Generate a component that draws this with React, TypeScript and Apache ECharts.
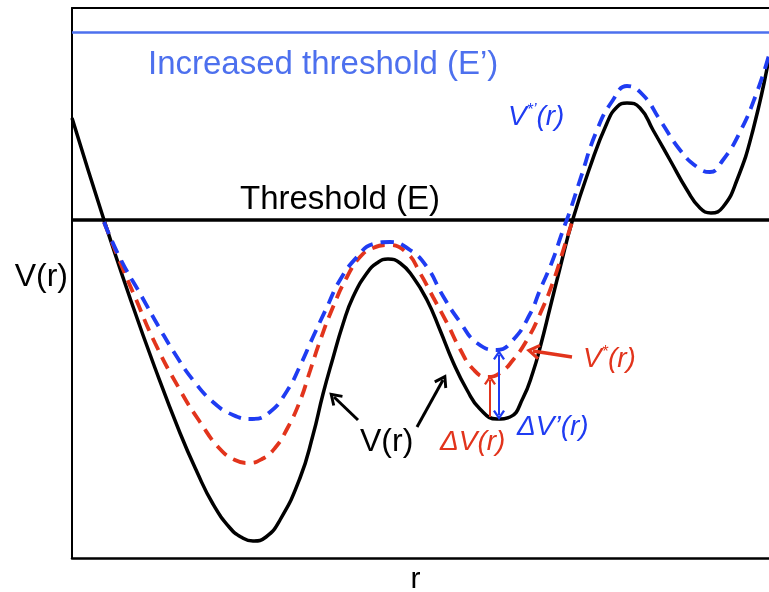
import React, { useEffect, useRef } from "react";
import * as echarts from "echarts";

// r (arbitrary units) and potential V (arbitrary units)
const rBlack = [0, 32, 58, 83, 108, 125, 141, 158, 169, 181, 194, 208, 228, 241, 251, 261, 271, 281, 295, 305, 316, 328, 341, 355, 368, 381, 395, 408, 425, 438, 451, 461, 469, 478, 488, 500, 518, 535, 545, 555, 568, 581, 598, 615, 628, 639, 651, 665, 681, 697];
const vBlack = [440, 338, 260, 190, 125, 86, 54, 30, 21, 17, 21, 38, 80, 123, 164, 200, 234, 261, 285, 295, 299, 295, 281, 258, 228, 196, 168, 149, 139, 141, 160, 186, 214, 250, 290, 336, 391, 435, 451, 455, 450, 428, 398, 368, 350, 345, 351, 378, 428, 500];

const rRed = [32, 48, 63, 83, 108, 128, 148, 163, 176, 190, 203, 215, 228, 238, 248, 261, 275, 288, 301, 316, 335, 348, 361, 375, 388, 401, 415, 428, 441, 455, 468, 481, 491, 500];
const vRed = [336, 296, 261, 215, 168, 136, 109, 98, 95, 99, 110, 129, 157, 187, 217, 251, 281, 301, 310, 313, 305, 285, 261, 235, 209, 189, 181, 185, 198, 218, 244, 276, 307, 336];

const rBlue = [32, 48, 70, 88, 105, 121, 141, 161, 180, 198, 215, 228, 241, 255, 268, 285, 301, 318, 338, 355, 371, 388, 405, 425, 441, 458, 468, 480, 490, 499, 508, 525, 541, 555, 571, 588, 608, 625, 638, 651, 668, 685, 697];
const vBlue = [336, 300, 261, 229, 201, 178, 156, 143, 139, 146, 167, 192, 221, 251, 278, 301, 314, 316, 308, 291, 262, 236, 215, 208, 218, 244, 268, 296, 325, 350, 378, 428, 458, 472, 463, 438, 408, 391, 386, 398, 426, 466, 503];

const thresholdE = 338;
const thresholdEPrime = 526;

const BLACK = "#000000";
const RED = "#e2341c";
const BLUE = "#1f3cf2";
const LIGHT_BLUE = "#4d70ee";
const FONT = "Liberation Sans";
const ARROW = "path://M50,0 L100,82 L84,94 L50,38 L16,94 L0,82 Z";

const pairs = (r: number[], v: number[]) => r.map((x, i) => [x, v[i]]);

export default function App() {
  const ref = useRef<HTMLDivElement>(null);
  useEffect(() => {
    if (!ref.current) return;
    const chart = echarts.init(ref.current, null, { renderer: "svg" });
    const hiddenAxis = {
      axisTick: { show: false },
      axisLabel: { show: false },
      splitLine: { show: false },
    };
    chart.setOption({
      animation: false,
      grid: { left: 72, right: 0, top: 8, bottom: 34, outerBoundsMode: "none", containLabel: false },
      xAxis: [
        {
          type: "value",
          min: 0,
          max: 697,
          position: "bottom",
          ...hiddenAxis,
          axisLine: { show: true, onZero: false, lineStyle: { color: BLACK, width: 2.5 } },
          name: "r",
          nameLocation: "middle",
          nameGap: 4,
          nameTextStyle: { fontFamily: FONT, fontSize: 30, lineHeight: 30, color: BLACK, padding: [0, 10, 0, 0] },
        },
        {
          type: "value",
          min: 0,
          max: 697,
          position: "top",
          ...hiddenAxis,
          axisLine: { show: true, onZero: false, lineStyle: { color: BLACK, width: 2 } },
        },
      ],
      yAxis: {
        type: "value",
        min: 0,
        max: 550,
        ...hiddenAxis,
        axisLine: { show: true, onZero: false, lineStyle: { color: BLACK, width: 2 } },
        name: "V(r)",
        nameLocation: "middle",
        nameRotate: 0,
        nameGap: 4,
        nameTextStyle: { fontFamily: FONT, fontSize: 32, lineHeight: 16, verticalAlign: "bottom", color: BLACK },
      },
      series: [
        {
          type: "line",
          name: "V(r)",
          data: pairs(rBlack, vBlack),
          smooth: 0.5,
          showSymbol: false,
          lineStyle: { color: BLACK, width: 3.5 },
          z: 3,
          markLine: {
            silent: true,
            symbol: "none",
            label: { show: false },
            emphasis: { disabled: true },
            data: [
              { yAxis: thresholdE, lineStyle: { color: BLACK, width: 3.5, type: "solid" } },
              { yAxis: thresholdEPrime, lineStyle: { color: LIGHT_BLUE, width: 2.5, type: "solid" } },
              [
                { coord: [286, 138], symbol: "none", lineStyle: { color: BLACK, width: 3, type: "solid" } },
                { coord: [262, 161], symbol: ARROW, symbolSize: [15, 13] },
              ],
              [
                { coord: [345, 131], symbol: "none", lineStyle: { color: BLACK, width: 3, type: "solid" } },
                { coord: [371, 178], symbol: ARROW, symbolSize: [15, 13] },
              ],
            ],
          },
        },
        {
          type: "line",
          name: "V*(r)",
          data: pairs(rRed, vRed),
          smooth: 0.5,
          showSymbol: false,
          lineStyle: { color: RED, width: 3.8, type: [13, 8] },
          z: 4,
          markLine: {
            silent: true,
            symbol: "none",
            label: { show: false },
            emphasis: { disabled: true },
            data: [
              [
                { coord: [418, 141], symbol: "none", lineStyle: { color: RED, width: 2, type: "solid" } },
                { coord: [418, 178], symbol: ARROW, symbolSize: [12, 10] },
              ],
              [
                { coord: [500, 201], symbol: "none", lineStyle: { color: RED, width: 3.5, type: "solid" } },
                { coord: [461, 207], symbol: ARROW, symbolSize: [16, 14] },
              ],
            ],
          },
        },
        {
          type: "line",
          name: "V*'(r)",
          data: pairs(rBlue, vBlue),
          smooth: 0.5,
          showSymbol: false,
          lineStyle: { color: BLUE, width: 3.8, type: [13, 8] },
          z: 5,
          markLine: {
            silent: true,
            symbol: "none",
            label: { show: false },
            emphasis: { disabled: true },
            data: [
              [
                { coord: [427, 143], symbol: ARROW, symbolSize: [12, 10], lineStyle: { color: BLUE, width: 2, type: "solid" } },
                { coord: [427, 203], symbol: ARROW, symbolSize: [12, 10] },
              ],
            ],
          },
        },
      ],
      graphic: [
        {
          type: "text",
          left: 148,
          top: 46,
          style: { text: "Increased threshold (E’)", fontFamily: FONT, fontSize: 33, fill: LIGHT_BLUE },
        },
        {
          type: "text",
          left: 240,
          top: 181,
          style: { text: "Threshold (E)", fontFamily: FONT, fontSize: 33, fill: BLACK },
        },
        {
          type: "text",
          left: 360,
          top: 424,
          style: { text: "V(r)", fontFamily: FONT, fontSize: 32, fill: BLACK },
        },
        {
          type: "text",
          left: 440,
          top: 426,
          style: { text: "ΔV(r)", fontFamily: FONT, fontSize: 28, fontStyle: "italic", fill: RED },
        },
        {
          type: "text",
          left: 517,
          top: 411,
          style: { text: "ΔV’(r)", fontFamily: FONT, fontSize: 28, fontStyle: "italic", fill: BLUE },
        },
        {
          type: "text",
          left: 583,
          top: 343,
          style: {
            text: "{a|V}{s|*}{a|(r)}",
            rich: {
              a: { fontFamily: FONT, fontSize: 28, fontStyle: "italic", fill: RED, color: RED },
              s: { fontFamily: FONT, fontSize: 16, fontStyle: "italic", fill: RED, color: RED, verticalAlign: "top", padding: [0, 0, 12, 0] },
            },
          },
        },
        {
          type: "text",
          left: 508,
          top: 101,
          style: {
            text: "{a|V}{s|*’}{a|(r)}",
            rich: {
              a: { fontFamily: FONT, fontSize: 28, fontStyle: "italic", fill: BLUE, color: BLUE },
              s: { fontFamily: FONT, fontSize: 16, fontStyle: "italic", fill: BLUE, color: BLUE, verticalAlign: "top", padding: [0, 0, 12, 0] },
            },
          },
        },
      ],
    });
    return () => chart.dispose();
  }, []);
  return <div ref={ref} style={{ position: "fixed", left: 0, top: 0, width: 769, height: 592 }} />;
}
